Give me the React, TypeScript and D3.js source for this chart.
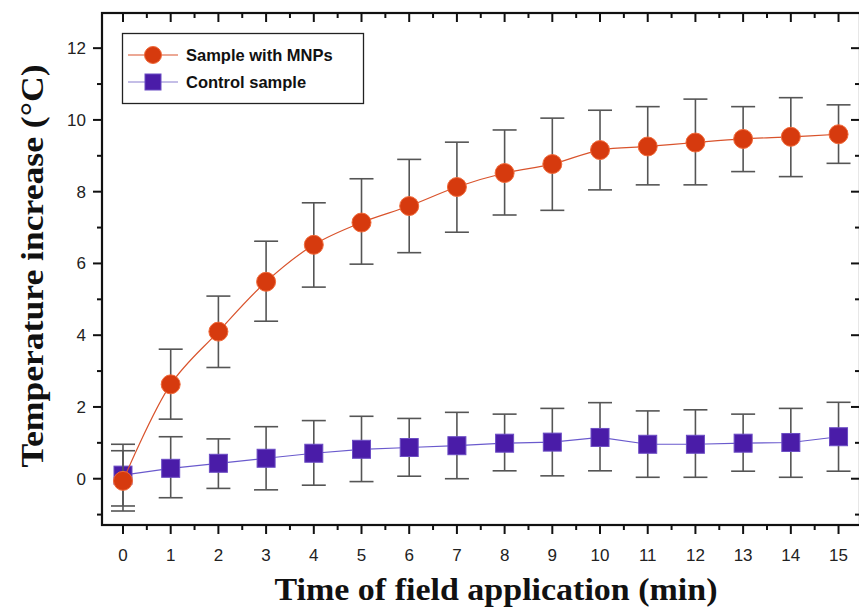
import React from 'react';
import * as d3 from 'd3';

// time of field application (min)
const times = [0, 1, 2, 3, 4, 5, 6, 7, 8, 9, 10, 11, 12, 13, 14, 15];

// Sample with MNPs
const mnpMean = [-0.06, 2.63, 4.1, 5.49, 6.52, 7.14, 7.6, 8.13, 8.52, 8.77, 9.16, 9.26, 9.37, 9.47, 9.53, 9.6];
const mnpHigh = [0.78, 3.61, 5.09, 6.62, 7.69, 8.36, 8.9, 9.38, 9.72, 10.05, 10.27, 10.37, 10.58, 10.37, 10.62, 10.42];
const mnpLow = [-0.9, 1.66, 3.1, 4.39, 5.34, 5.98, 6.3, 6.87, 7.35, 7.48, 8.05, 8.19, 8.19, 8.56, 8.42, 8.79];

// Control sample
const ctrlMean = [0.1, 0.29, 0.43, 0.57, 0.71, 0.82, 0.87, 0.92, 0.99, 1.02, 1.15, 0.96, 0.96, 0.99, 1.01, 1.17];
const ctrlHigh = [0.96, 1.17, 1.11, 1.45, 1.62, 1.74, 1.68, 1.85, 1.8, 1.96, 2.12, 1.89, 1.92, 1.8, 1.96, 2.13];
const ctrlLow = [-0.76, -0.53, -0.27, -0.31, -0.18, -0.08, 0.07, 0.0, 0.22, 0.08, 0.22, 0.04, 0.04, 0.21, 0.04, 0.21];

const yMajor = [0, 2, 4, 6, 8, 10, 12];
const yMinor = [-1, 1, 3, 5, 7, 9, 11];

const W = 859;
const H = 608;
const left = 102;
const right = 860;
const top = 13;
const bottom = 525;

export default function App() {
  const x = d3.scaleLinear().domain([-0.44, 15.45]).range([left, right]);
  const y = d3.scaleLinear().domain([-1.29, 12.98]).range([bottom, top]);

  const xMinor = times.slice(0, -1).map(t => t + 0.5);
  const errColor = '#555';
  const cap = 12;

  const redLine = d3.line<number>()
    .x((d, i) => x(times[i]))
    .y(d => y(d))
    .curve(d3.curveCatmullRom.alpha(0.5));
  const blueLine = d3.line<number>()
    .x((d, i) => x(times[i]))
    .y(d => y(d));

  const errorBars = (hi: number[], lo: number[], key: string) =>
    times.map((t, i) => (
      <g key={key + i} stroke={errColor} strokeWidth={1.6}>
        <line x1={x(t)} x2={x(t)} y1={y(hi[i])} y2={y(lo[i])} />
        <line x1={x(t) - cap} x2={x(t) + cap} y1={y(hi[i])} y2={y(hi[i])} />
        <line x1={x(t) - cap} x2={x(t) + cap} y1={y(lo[i])} y2={y(lo[i])} />
      </g>
    ));

  return (
    <svg width={W} height={H} style={{ position: 'absolute', left: 0, top: 0, background: '#fff' }}>
      {/* frame */}
      <rect x={left} y={top} width={right - left} height={bottom - top} fill="none" stroke="#111" strokeWidth={2.2} />

      {/* bottom ticks (outward) + top ticks (inward) */}
      {times.map(t => (
        <g key={'xt' + t} stroke="#111" strokeWidth={2}>
          <line x1={x(t)} x2={x(t)} y1={bottom} y2={bottom + 9} />
          <line x1={x(t)} x2={x(t)} y1={top} y2={top + 9} />
        </g>
      ))}
      {xMinor.map(t => (
        <g key={'xm' + t} stroke="#111" strokeWidth={2}>
          <line x1={x(t)} x2={x(t)} y1={bottom} y2={bottom + 5} />
          <line x1={x(t)} x2={x(t)} y1={top} y2={top + 5} />
        </g>
      ))}
      {times.map(t => (
        <text key={'xl' + t} x={x(t)} y={561} textAnchor="middle" fontFamily="Liberation Sans, Arial, sans-serif" fontSize={17} fill="#222">{t}</text>
      ))}

      {/* left ticks (outward) + right ticks (inward) */}
      {yMajor.map(v => (
        <g key={'yt' + v} stroke="#111" strokeWidth={2}>
          <line x1={left - 9} x2={left} y1={y(v)} y2={y(v)} />
          <line x1={right - 9} x2={right} y1={y(v)} y2={y(v)} />
        </g>
      ))}
      {yMinor.map(v => (
        <g key={'ym' + v} stroke="#111" strokeWidth={2}>
          <line x1={left - 5} x2={left} y1={y(v)} y2={y(v)} />
          <line x1={right - 5} x2={right} y1={y(v)} y2={y(v)} />
        </g>
      ))}
      {yMajor.map(v => (
        <text key={'yl' + v} x={86} y={y(v) + 6} textAnchor="end" fontFamily="Liberation Sans, Arial, sans-serif" fontSize={17} fill="#222">{v}</text>
      ))}

      {/* axis titles */}
      <text x={496} y={600} textAnchor="middle" textLength={443} lengthAdjust="spacingAndGlyphs" fontFamily="Liberation Serif, Times New Roman, serif" fontWeight="bold" fontSize={31} fill="#111">Time of field application (min)</text>
      <text transform={`translate(43, 266) rotate(-90)`} textAnchor="middle" textLength={403} lengthAdjust="spacingAndGlyphs" fontFamily="Liberation Serif, Times New Roman, serif" fontWeight="bold" fontSize={31} fill="#111">Temperature increase (°C)</text>

      {/* control sample */}
      {errorBars(ctrlHigh, ctrlLow, 'ce')}
      <path d={blueLine(ctrlMean) || ''} fill="none" stroke="#6a5acd" strokeWidth={1.2} />
      {times.map((t, i) => (
        <rect key={'cs' + i} x={x(t) - 9} y={y(ctrlMean[i]) - 9} width={18} height={18} fill="#4a1ca8" stroke="#6b4cc4" strokeWidth={1} />
      ))}

      {/* sample with MNPs */}
      {errorBars(mnpHigh, mnpLow, 'me')}
      <path d={redLine(mnpMean) || ''} fill="none" stroke="#d9532c" strokeWidth={1.2} />
      {times.map((t, i) => (
        <circle key={'mc' + i} cx={x(t)} cy={y(mnpMean[i])} r={9.5} fill="#d63a0e" stroke="#f06a3a" strokeWidth={1} />
      ))}

      {/* legend */}
      <rect x={122.5} y={33.5} width={241} height={70} fill="#fff" stroke="#222" strokeWidth={1.3} />
      <line x1={128} x2={178} y1={55} y2={55} stroke="#d9532c" strokeWidth={1.2} />
      <circle cx={153} cy={55} r={8.5} fill="#d63a0e" stroke="#f06a3a" strokeWidth={1} />
      <text x={186} y={61} fontFamily="Liberation Sans, Arial, sans-serif" fontWeight="bold" fontSize={16.5} fill="#111">Sample with MNPs</text>
      <line x1={128} x2={178} y1={82} y2={82} stroke="#8a7fd0" strokeWidth={1.2} />
      <rect x={145} y={74} width={16} height={16} fill="#4a1ca8" stroke="#6b4cc4" strokeWidth={1} />
      <text x={186} y={88} fontFamily="Liberation Sans, Arial, sans-serif" fontWeight="bold" fontSize={16.5} fill="#111">Control sample</text>
    </svg>
  );
}
